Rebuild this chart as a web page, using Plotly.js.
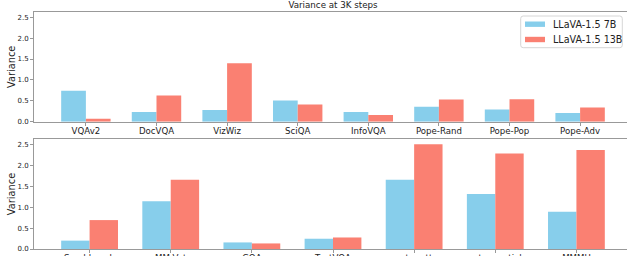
<!DOCTYPE html>
<html>
<head>
<meta charset="utf-8">
<script src="https://cdn.plot.ly/plotly-3.0.1.min.js"></script>
<style>
html,body{margin:0;padding:0;overflow:hidden;background:#fff;}
#chart{width:632px;height:256px;}
</style>
</head>
<body>
<div id="chart"></div>
<script>
const topCategories = ["VQAv2","DocVQA","VizWiz","SciQA","InfoVQA","Pope-Rand","Pope-Pop","Pope-Adv"];
const top7B  = [0.74, 0.23, 0.28, 0.51, 0.23, 0.355, 0.29, 0.21];
const top13B = [0.07, 0.625, 1.40, 0.41, 0.16, 0.53, 0.54, 0.34];

const bottomCategories = ["Seed-bench","MM-Vet","GQA","TextVQA","vstar-att","vstar-spatial","MMMU"];
const bottom7B  = [0.20, 1.14, 0.157, 0.245, 1.65, 1.31, 0.886];
const bottom13B = [0.69, 1.65, 0.133, 0.275, 2.50, 2.28, 2.36];

const seriesNames = ["LLaVA-1.5 7B", "LLaVA-1.5 13B"];
const colors = ["#87CEEB", "#FA8072"];

const FONT = "DejaVu Sans, sans-serif";

const traces = [
  {type:"bar", x: topCategories.map((c,i)=>i), y: top7B, name: seriesNames[0], marker:{color:colors[0]}, xaxis:"x", yaxis:"y"},
  {type:"bar", x: topCategories.map((c,i)=>i), y: top13B, name: seriesNames[1], marker:{color:colors[1]}, xaxis:"x", yaxis:"y"},
  {type:"bar", x: bottomCategories.map((c,i)=>i), y: bottom7B, name: seriesNames[0], marker:{color:colors[0]}, xaxis:"x2", yaxis:"y2"},
  {type:"bar", x: bottomCategories.map((c,i)=>i), y: bottom13B, name: seriesNames[1], marker:{color:colors[1]}, xaxis:"x2", yaxis:"y2"}
];

const W = 632, H = 256;
const mL = 34, mR = 0, mT = 12, mB = 7;
const plotW = W - mL - mR, plotH = H - mT - mB;
function py(pix){ return (H - mB - pix) / plotH; }
function px(pix){ return (pix - mL) / plotW; }

const lineCol = "#999";
const xAxisBase = {
  showline:true, linecolor:lineCol, linewidth:1, mirror:true,
  ticks:"outside", ticklen:3, tickcolor:lineCol, tickwidth:1,
  showgrid:false, zeroline:false, ticklabelstandoff:-2,
  tickfont:{family:FONT, size:8.6, color:"#222"},
  tickmode:"array"
};
const yAxisBase = {
  showline:true, linecolor:lineCol, linewidth:1, mirror:true,
  ticks:"outside", ticklen:3, tickcolor:lineCol, tickwidth:1,
  showgrid:false, zeroline:false,
  range:[0, 2.625], dtick:0.5, tick0:0, tickformat:".1f",
  tickfont:{family:FONT, size:7, color:"#222"},
  title:{text:"Variance", font:{family:FONT, size:9.8, color:"#222"}, standoff:0}
};

// legend drawn from the series names/colours
const legX0 = 520.7, legX1 = 622.3, legY0 = 16, legY1 = 47.7, r = 2.5;
const rx = r / plotW, ry = r / plotH;
const lx0 = px(legX0), lx1 = px(legX1), ly0 = py(legY0), ly1 = py(legY1);
const legPath = `M${lx0+rx},${ly0} L${lx1-rx},${ly0} Q${lx1},${ly0} ${lx1},${ly0-ry} L${lx1},${ly1+ry} Q${lx1},${ly1} ${lx1-rx},${ly1} L${lx0+rx},${ly1} Q${lx0},${ly1} ${lx0},${ly1+ry} L${lx0},${ly0-ry} Q${lx0},${ly0} ${lx0+rx},${ly0} Z`;
const rowCenters = [24.2, 39.5];
const shapes = [
  {type:"path", xref:"paper", yref:"paper", path:legPath, fillcolor:"rgba(255,255,255,0.85)", line:{color:"#d6d6d6", width:1}, layer:"above"}
];
const annotations = [];
seriesNames.forEach((name, i) => {
  const cy = rowCenters[i];
  shapes.push({type:"rect", xref:"paper", yref:"paper", x0:px(525), x1:px(545), y0:py(cy-2.7), y1:py(cy+2.7),
               fillcolor:colors[i], line:{width:0}, layer:"above"});
  annotations.push({xref:"paper", yref:"paper", x:px(551), y:py(cy), xanchor:"left", yanchor:"middle",
                    text:name, showarrow:false, font:{family:FONT, size:9.6, color:"#222"}});
});

const layout = {
  width: W, height: H,
  margin:{l:mL, r:mR, t:mT, b:mB},
  paper_bgcolor:"#fff", plot_bgcolor:"#fff",
  barmode:"group", bargap:0.3, bargroupgap:0,
  showlegend:false,
  font:{family:FONT, color:"#222"},
  title:{text:"Variance at 3K steps", font:{family:FONT, size:8.7, color:"#222"},
         x:0.5, xref:"paper", xanchor:"center", y:1-5.3/H, yref:"container", yanchor:"middle"},
  xaxis: Object.assign({}, xAxisBase, {domain:[0,1], anchor:"y", range:[-0.735, 7.735],
         tickvals: topCategories.map((c,i)=>i), ticktext: topCategories}),
  yaxis: Object.assign({}, yAxisBase, {domain:[py(121.7), 1], anchor:"x"}),
  xaxis2: Object.assign({}, xAxisBase, {domain:[0,1], anchor:"y2", range:[-0.685, 6.685],
         tickvals: bottomCategories.map((c,i)=>i), ticktext: bottomCategories}),
  yaxis2: Object.assign({}, yAxisBase, {domain:[0, py(139)], anchor:"x2"}),
  shapes: shapes,
  annotations: annotations
};

Plotly.newPlot("chart", traces, layout, {staticPlot:true, displayModeBar:false});
</script>
</body>
</html>
